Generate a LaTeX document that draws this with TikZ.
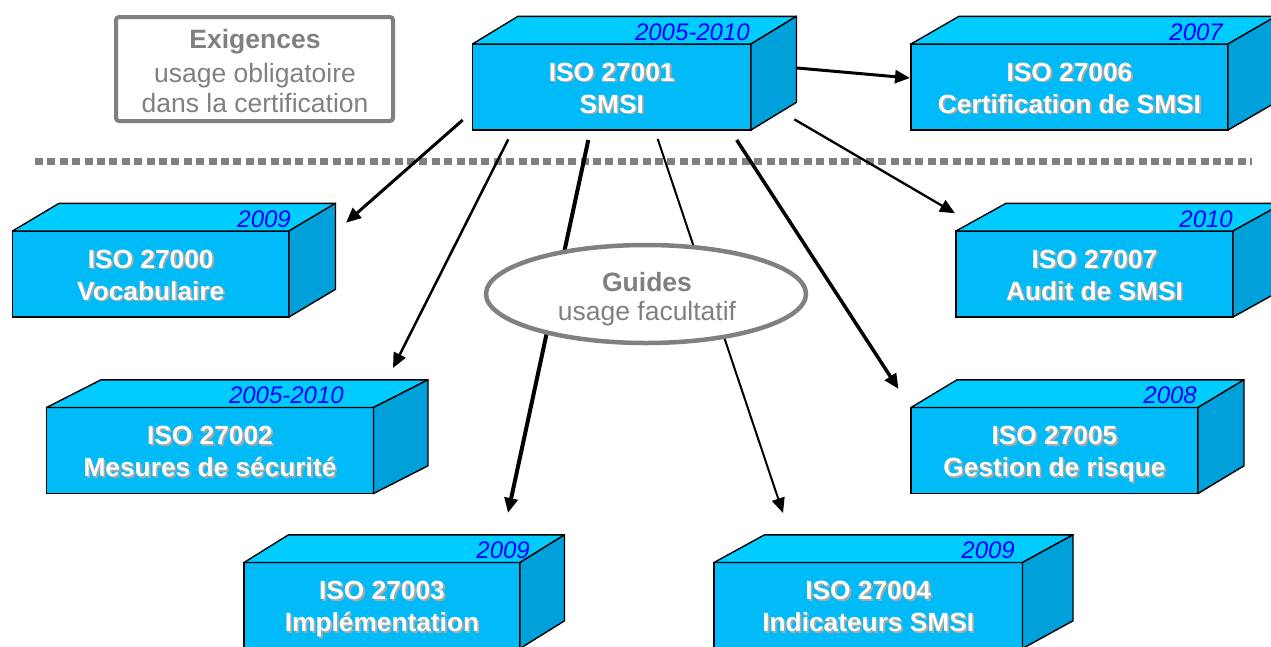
\documentclass[tikz,border=0pt]{standalone}
\usepackage{fontspec}
\setmainfont{Liberation Sans}
\usetikzlibrary{arrows.meta,shapes.geometric}
\definecolor{frontc}{HTML}{00BBF7}
\definecolor{topc}{HTML}{00CCFF}
\definecolor{sidec}{HTML}{00A0DA}
\definecolor{grayc}{HTML}{808080}
\definecolor{shadc}{HTML}{A8A8A8}
\definecolor{yearc}{HTML}{0000FF}
\tikzset{
  frontface/.style={draw=black, line width=1.4pt, fill=frontc, minimum height=86pt, inner sep=0pt, outer sep=0pt},
  topface/.style={draw=black, line width=1.4pt, fill=topc, line join=round},
  sideface/.style={draw=black, line width=1.4pt, fill=sidec, line join=round},
  yearlbl/.style={text=yearc, font=\fontsize{24}{28}\selectfont\itshape, anchor=base east, inner sep=0pt},
  boldtxt/.style={text=white, font=\fontsize{26.3}{30}\selectfont\bfseries, anchor=base, inner sep=0pt},
  boldshad/.style={boldtxt, text=shadc},
  graybold/.style={text=grayc, font=\fontsize{26.5}{30}\selectfont\bfseries, anchor=base, inner sep=0pt},
  grayreg/.style={text=grayc, font=\fontsize{26.5}{30}\selectfont, anchor=base, inner sep=0pt},
  conn/.style={draw=black, -{Triangle[length=15pt,width=13pt]}},
}
\newcommand{\isobox}[9]{%
  \node[frontface, minimum width=#4pt, anchor=north west] (#1) at (#2,#3) {};
  \draw[topface] (#1.north west) -- ++(#5,-27.7) -- ++(#4,0) -- (#1.north east) -- cycle;
  \draw[sideface] (#1.north east) -- ++(#5,-27.7) -- ++(0,86) -- (#1.south east) -- cycle;
  \node[yearlbl] (#1-y) at (#7,{#3-4}) {#6};
  \node[boldshad] (#1-as) at ({#2+#4/2+1.8},{#3+38.8}) {#8};
  \node[boldtxt] (#1-a) at ({#2+#4/2},{#3+37}) {#8};
  \node[boldshad] (#1-bs) at ({#2+#4/2+1.8},{#3+70.8}) {#9};
  \node[boldtxt] (#1-b) at ({#2+#4/2},{#3+69}) {#9};
}
\begin{document}
\begin{tikzpicture}[x=1pt,y=-1pt]
\useasboundingbox (0,0) rectangle (1271,646);
\begin{scope}
\clip (0,0) rectangle (1271,646);
% separator
\coordinate (sepL) at (35,161.5);
\coordinate (sepR) at (1252,161.5);
\draw[grayc, line width=7.3pt, dash pattern=on 8pt off 4.4pt] (sepL) -- (sepR);

% Exigences box
\node[draw=grayc, line width=4pt, rounded corners=3pt, minimum width=277pt, minimum height=104pt, inner sep=0pt] (exig) at (254.5,69) {};
\node[graybold] (exig-a) at (255,48) {Exigences};
\node[grayreg] (exig-b) at (255,82) {usage obligatoire};
\node[grayreg] (exig-c) at (255,112) {dans la certification};

% arrow coordinates
\coordinate (s0) at (462.7,120);   \coordinate (e0) at (346,222.7);
\coordinate (s2) at (508.3,139.3); \coordinate (e2) at (393,368);
\coordinate (s3) at (588.3,140);   \coordinate (e3) at (508,513);
\coordinate (s4) at (657.7,139);   \coordinate (e4) at (783,513);
\coordinate (s5) at (736.7,140);   \coordinate (e5) at (898.5,389);
\coordinate (s7) at (794.3,119.3); \coordinate (e7) at (955,213.3);
\coordinate (s6) at (797,68);      \coordinate (e6) at (910,78);

\draw[conn, line width=3pt] (s0) -- (e0);
\draw[conn, line width=2.5pt] (s2) -- (e2);
\draw[conn, line width=4pt] (s3) -- (e3);
\draw[conn, line width=2pt] (s4) -- (e4);
\draw[conn, line width=3.5pt] (s5) -- (e5);
\draw[conn, line width=2.3pt] (s7) -- (e7);
\draw[conn, line width=3pt] (s6) -- (e6);

% Guides ellipse
\node[ellipse, draw=grayc, fill=white, line width=4.5pt, minimum width=320pt, minimum height=98pt, inner sep=0pt] (guides) at (646,294) {};
\node[graybold] (guides-a) at (647,291) {Guides};
\node[grayreg] (guides-b) at (647,320) {usage facultatif};

% boxes
\isobox{b27001}{472.5}{44}{278.5}{45.5}{2005-2010}{750}{ISO 27001}{SMSI}
\isobox{b27006}{911}{44}{317}{48}{2007}{1223}{ISO 27006}{Certification de SMSI}
\isobox{b27000}{12.5}{231}{276.5}{46.5}{2009}{291}{ISO 27000}{Vocabulaire}
\isobox{b27007}{956}{231}{277}{50}{2010}{1233}{ISO 27007}{Audit de SMSI}
\isobox{b27002}{46.5}{407.5}{327}{54.5}{2005-2010}{344}{ISO 27002}{Mesures de sécurité}
\isobox{b27005}{911}{407.5}{287}{46}{2008}{1197}{ISO 27005}{Gestion de risque}
\isobox{b27003}{244}{562.5}{276}{44.5}{2009}{530}{ISO 27003}{Implémentation}
\isobox{b27004}{714}{562.5}{308.5}{50.5}{2009}{1015}{ISO 27004}{Indicateurs SMSI}
\end{scope}
\end{tikzpicture}
\end{document}
